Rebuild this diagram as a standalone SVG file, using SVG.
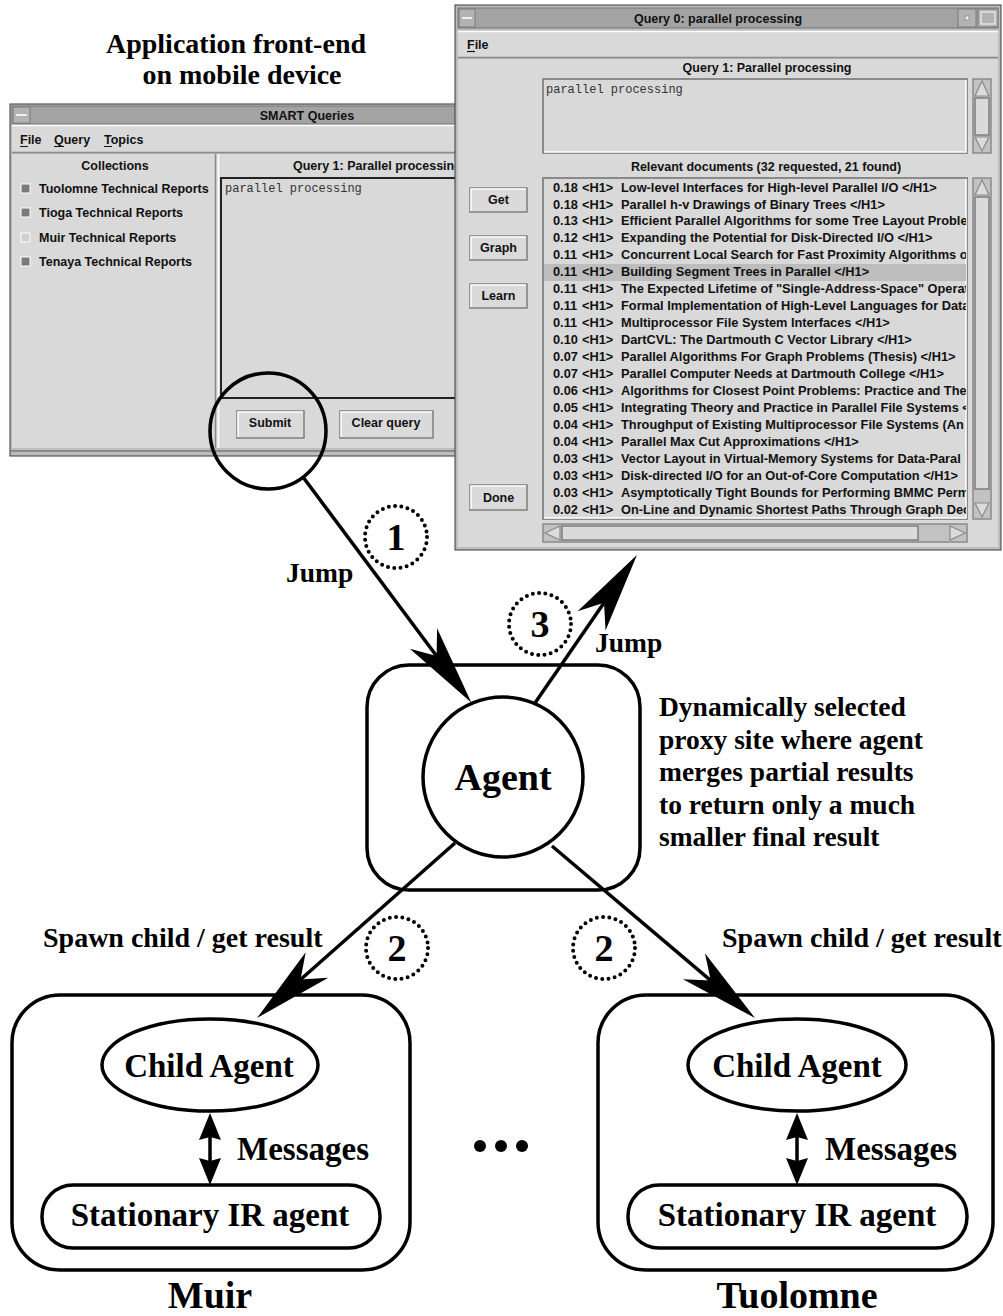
<svg xmlns="http://www.w3.org/2000/svg" width="1003" height="1316" viewBox="0 0 1003 1316">
<defs>
<style>
.gui{font-family:"Liberation Sans",Arial,Helvetica,sans-serif;font-weight:bold;font-size:12.5px;fill:#111}
.lst{font-family:"Liberation Sans",Arial,Helvetica,sans-serif;font-weight:bold;font-size:12.8px;fill:#111}
.mono{font-family:"Liberation Mono","Courier New",monospace;font-size:12px;fill:#333}
.lbl{font-family:"Liberation Serif","Times New Roman",serif;font-weight:bold;fill:#000}
.frame{fill:#bdbdbd;stroke:#3a3a3a;stroke-width:1}
.bar{fill:#a3a3a3;stroke:#777;stroke-width:1}
.face{fill:#d9d9d9}
.btn{fill:#dadada;stroke:#7f7f7f;stroke-width:1.5}
.hi{fill:none;stroke:#fff;stroke-width:1.5}
.sh{fill:none;stroke:#8a8a8a;stroke-width:1.5}
.trough{fill:#c2c2c2;stroke:#8a8a8a;stroke-width:1.5}
.arr{fill:#dcdcdc;stroke:#8a8a8a;stroke-width:1.2}
.box{fill:none;stroke:#000;stroke-width:3.5}
.conn{fill:none;stroke:#000;stroke-width:3.5}
.dots{fill:none;stroke:#000;stroke-width:4;stroke-linecap:round;stroke-dasharray:0 6.3}
</style>
<marker id="barb" markerUnits="userSpaceOnUse" viewBox="-30 -20 90 40" refX="0" refY="0" markerWidth="90" markerHeight="40" orient="auto" overflow="visible">
<path d="M54,0 L-26,-17 L-4,0 L-26,17 Z" fill="#000"/>
</marker>
<marker id="tri" markerUnits="userSpaceOnUse" viewBox="-10 -14 40 28" refX="0" refY="0" markerWidth="40" markerHeight="28" orient="auto-start-reverse" overflow="visible">
<path d="M22,0 L-5,-11 L-2,0 L-5,11 Z" fill="#000"/>
</marker>
<clipPath id="listclip"><rect x="544" y="179" width="422" height="339"/></clipPath>
</defs>

<rect width="1003" height="1316" fill="#fff"/>

<!-- Left window -->
<g id="smart-queries-window">
<rect x="10" y="104" width="452" height="352" class="frame"/>
<rect x="12" y="106" width="448" height="18" class="bar"/>
<rect x="13" y="107" width="17" height="16" fill="#b3b3b3" stroke="#7a7a7a"/>
<line x1="16" y1="115" x2="27" y2="115" stroke="#eee" stroke-width="2"/>
<text x="307" y="119.5" class="gui" text-anchor="middle">SMART Queries</text>
<rect x="12" y="125" width="448" height="28" class="face"/>
<path d="M12,152.5 H460" class="sh"/>
<path d="M12,125.5 H460" class="hi"/>
<text x="20" y="144" class="gui">File</text>
<text x="54" y="144" class="gui">Query</text>
<text x="104" y="144" class="gui">Topics</text>
<path d="M20,146.5 H28 M54,146.5 H64 M104,146.5 H112" stroke="#111" stroke-width="1.2"/>
<rect x="12" y="154" width="448" height="294" class="face"/>
<path d="M215.5,154 V448" class="sh"/>
<path d="M218.5,154 V448" class="hi"/>
<text x="115" y="170" class="gui" text-anchor="middle">Collections</text>
<rect x="21" y="184" width="9" height="9" fill="#7a7a7a" stroke="#fff" stroke-width="1"/>
<rect x="21" y="208" width="9" height="9" fill="#7a7a7a" stroke="#fff" stroke-width="1"/>
<rect x="21" y="233" width="9" height="9" fill="#d0d0d0" stroke="#fff" stroke-width="1"/>
<rect x="21" y="257" width="9" height="9" fill="#7a7a7a" stroke="#fff" stroke-width="1"/>
<text x="39" y="192.5" class="gui">Tuolomne Technical Reports</text>
<text x="39" y="217" class="gui">Tioga Technical Reports</text>
<text x="39" y="241.5" class="gui">Muir Technical Reports</text>
<text x="39" y="266" class="gui">Tenaya Technical Reports</text>
<text x="293" y="170" class="gui">Query 1:  Parallel processing</text>
<rect x="221" y="178" width="245" height="220" fill="#d9d9d9" stroke="#222" stroke-width="2"/>
<text x="225" y="192" class="mono">parallel processing</text>
<rect x="237" y="411" width="67" height="27" class="btn"/>
<path d="M238,437 V412 H303" class="hi"/>
<text x="270" y="427" class="gui" text-anchor="middle">Submit</text>
<rect x="340" y="411" width="93" height="27" class="btn"/>
<path d="M341,437 V412 H432" class="hi"/>
<text x="386" y="427" class="gui" text-anchor="middle">Clear query</text>
<path d="M10,451 H460" stroke="#7a7a7a" stroke-width="1.5"/>
</g>

<!-- Right window -->
<g id="query-results-window">
<rect x="455" y="5" width="546" height="545" class="frame"/>
<rect x="458" y="8" width="540" height="20" class="bar"/>
<rect x="459" y="9" width="16" height="18" fill="#b3b3b3" stroke="#7a7a7a"/>
<line x1="462" y1="18" x2="472" y2="18" stroke="#eee" stroke-width="2"/>
<rect x="958" y="9" width="18" height="18" fill="#b3b3b3" stroke="#7a7a7a"/>
<rect x="965" y="16" width="4" height="4" fill="#eee" stroke="#888" stroke-width="0.8"/>
<rect x="978" y="9" width="20" height="18" fill="#b3b3b3" stroke="#7a7a7a"/>
<rect x="981" y="12" width="14" height="12" fill="none" stroke="#eee" stroke-width="1.2"/>
<text x="718" y="23" class="gui" text-anchor="middle">Query 0: parallel processing</text>
<rect x="458" y="31" width="540" height="27" class="face"/>
<path d="M458,31.5 H998" class="hi"/>
<path d="M458,57.5 H998" class="sh"/>
<text x="467" y="49" class="gui">File</text>
<path d="M467,51.5 H475" stroke="#111" stroke-width="1.2"/>
<rect x="458" y="59" width="540" height="488" class="face"/>
<text x="767" y="72" class="gui" text-anchor="middle">Query 1:  Parallel processing</text>
<rect x="543" y="79" width="424" height="74" fill="#d9d9d9" stroke="#8a8a8a" stroke-width="2"/>
<path d="M544,152 H966 V80" fill="none" stroke="#fff" stroke-width="1.5"/>
<text x="546" y="93" class="mono">parallel processing</text>
<rect x="973" y="79" width="18" height="74" class="trough"/>
<polygon points="982,81 975,96 989,96" class="arr"/>
<rect x="975" y="98" width="14" height="37" class="btn"/>
<polygon points="975,137 989,137 982,151" class="arr"/>
<text x="766" y="171" class="gui" text-anchor="middle">Relevant documents (32 requested,  21 found)</text>
<rect x="543" y="178" width="424" height="341" fill="#d9d9d9" stroke="#8a8a8a" stroke-width="2"/>
<path d="M544,518 H966 V179" fill="none" stroke="#fff" stroke-width="1.5"/>
<rect x="544" y="264" width="422" height="17" fill="#bdbdbd"/>
<g clip-path="url(#listclip)" class="lst">
<text y="191.5"><tspan x="553">0.18</tspan><tspan x="582">&lt;H1&gt;</tspan><tspan x="621">Low-level Interfaces for High-level Parallel I/O &lt;/H1&gt;</tspan></text>
<text y="208.5"><tspan x="553">0.18</tspan><tspan x="582">&lt;H1&gt;</tspan><tspan x="621">Parallel h-v Drawings of Binary Trees &lt;/H1&gt;</tspan></text>
<text y="225.4"><tspan x="553">0.13</tspan><tspan x="582">&lt;H1&gt;</tspan><tspan x="621">Efficient Parallel Algorithms for some Tree Layout Problem</tspan></text>
<text y="242.4"><tspan x="553">0.12</tspan><tspan x="582">&lt;H1&gt;</tspan><tspan x="621">Expanding the Potential for Disk-Directed I/O &lt;/H1&gt;</tspan></text>
<text y="259.3"><tspan x="553">0.11</tspan><tspan x="582">&lt;H1&gt;</tspan><tspan x="621">Concurrent Local Search for Fast Proximity Algorithms on</tspan></text>
<text y="276.3"><tspan x="553">0.11</tspan><tspan x="582">&lt;H1&gt;</tspan><tspan x="621">Building Segment Trees in Parallel &lt;/H1&gt;</tspan></text>
<text y="293.2"><tspan x="553">0.11</tspan><tspan x="582">&lt;H1&gt;</tspan><tspan x="621">The Expected Lifetime of "Single-Address-Space" Operati</tspan></text>
<text y="310.2"><tspan x="553">0.11</tspan><tspan x="582">&lt;H1&gt;</tspan><tspan x="621">Formal Implementation of High-Level Languages for Data-</tspan></text>
<text y="327.1"><tspan x="553">0.11</tspan><tspan x="582">&lt;H1&gt;</tspan><tspan x="621">Multiprocessor File System Interfaces &lt;/H1&gt;</tspan></text>
<text y="344.1"><tspan x="553">0.10</tspan><tspan x="582">&lt;H1&gt;</tspan><tspan x="621">DartCVL: The Dartmouth C Vector Library &lt;/H1&gt;</tspan></text>
<text y="361"><tspan x="553">0.07</tspan><tspan x="582">&lt;H1&gt;</tspan><tspan x="621">Parallel Algorithms For Graph Problems (Thesis) &lt;/H1&gt;</tspan></text>
<text y="378"><tspan x="553">0.07</tspan><tspan x="582">&lt;H1&gt;</tspan><tspan x="621">Parallel Computer Needs at Dartmouth College &lt;/H1&gt;</tspan></text>
<text y="394.9"><tspan x="553">0.06</tspan><tspan x="582">&lt;H1&gt;</tspan><tspan x="621">Algorithms for Closest Point Problems: Practice and Theor</tspan></text>
<text y="411.9"><tspan x="553">0.05</tspan><tspan x="582">&lt;H1&gt;</tspan><tspan x="621">Integrating Theory and Practice in Parallel File Systems &lt;</tspan></text>
<text y="428.8"><tspan x="553">0.04</tspan><tspan x="582">&lt;H1&gt;</tspan><tspan x="621">Throughput of Existing Multiprocessor File Systems (An In</tspan></text>
<text y="445.8"><tspan x="553">0.04</tspan><tspan x="582">&lt;H1&gt;</tspan><tspan x="621">Parallel Max Cut Approximations &lt;/H1&gt;</tspan></text>
<text y="462.7"><tspan x="553">0.03</tspan><tspan x="582">&lt;H1&gt;</tspan><tspan x="621">Vector Layout in Virtual-Memory Systems for Data-Paral</tspan></text>
<text y="479.7"><tspan x="553">0.03</tspan><tspan x="582">&lt;H1&gt;</tspan><tspan x="621">Disk-directed I/O for an Out-of-Core Computation &lt;/H1&gt;</tspan></text>
<text y="496.6"><tspan x="553">0.03</tspan><tspan x="582">&lt;H1&gt;</tspan><tspan x="621">Asymptotically Tight Bounds for Performing BMMC Permu</tspan></text>
<text y="513.6"><tspan x="553">0.02</tspan><tspan x="582">&lt;H1&gt;</tspan><tspan x="621">On-Line and Dynamic Shortest Paths Through Graph Deco</tspan></text>
</g>
<rect x="973" y="178" width="18" height="341" class="trough"/>
<polygon points="982,180 975,195 989,195" class="arr"/>
<rect x="975" y="197" width="14" height="292" class="btn"/>
<polygon points="975,503 989,503 982,517" class="arr"/>
<rect x="543" y="524" width="424" height="18" class="trough"/>
<polygon points="545,533 560,526 560,540" class="arr"/>
<rect x="562" y="526" width="356" height="14" class="btn"/>
<polygon points="950,526 950,540 965,533" class="arr"/>
<rect x="470" y="188" width="57" height="24" class="btn"/>
<path d="M471,211 V189 H526" class="hi"/>
<text x="498.5" y="204" class="gui" text-anchor="middle">Get</text>
<rect x="470" y="236" width="57" height="24" class="btn"/>
<path d="M471,259 V237 H526" class="hi"/>
<text x="498.5" y="252" class="gui" text-anchor="middle">Graph</text>
<rect x="470" y="284" width="57" height="24" class="btn"/>
<path d="M471,307 V285 H526" class="hi"/>
<text x="498.5" y="300" class="gui" text-anchor="middle">Learn</text>
<rect x="470" y="485" width="57" height="25" class="btn"/>
<path d="M471,509 V486 H526" class="hi"/>
<text x="498.5" y="502" class="gui" text-anchor="middle">Done</text>
</g>

<!-- Captions -->
<g id="caption-frontend">
<text x="236" y="53" class="lbl" font-size="28" text-anchor="middle">Application front-end</text>
<text x="242" y="84" class="lbl" font-size="28" text-anchor="middle">on mobile device</text>
</g>

<!-- Nodes -->
<g id="submit-highlight">
<circle cx="268" cy="431" r="58" fill="none" stroke="#000" stroke-width="3.5"/>
</g>

<g id="proxy-site">
<rect x="367" y="665" width="273" height="225" rx="42" class="box" fill="#fff"/>
</g>
<g id="agent">
<circle cx="503" cy="777" r="80" fill="#fff" stroke="#000" stroke-width="3.5"/>
<text x="503" y="790" class="lbl" font-size="38" text-anchor="middle">Agent</text>
</g>
<g id="proxy-note">
<text x="659" y="716" class="lbl" font-size="27.5">Dynamically selected</text>
<text x="659" y="748.5" class="lbl" font-size="27.5">proxy site where agent</text>
<text x="659" y="781" class="lbl" font-size="27.5">merges partial results</text>
<text x="659" y="813.5" class="lbl" font-size="27.5">to return only a much</text>
<text x="659" y="846" class="lbl" font-size="27.5">smaller final result</text>
</g>

<g id="muir">
<rect x="12" y="995" width="398" height="275" rx="48" class="box"/>
<text x="210" y="1308" class="lbl" font-size="38" text-anchor="middle">Muir</text>
</g>
<g id="muir-child-agent">
<ellipse cx="210" cy="1065" rx="108" ry="46" class="box"/>
<text x="209" y="1077" class="lbl" font-size="33" text-anchor="middle">Child Agent</text>
</g>
<g id="muir-stationary-ir">
<rect x="42" y="1185" width="338" height="63" rx="31" class="box"/>
<text x="210" y="1226" class="lbl" font-size="33" text-anchor="middle">Stationary IR agent</text>
</g>

<g id="tuolomne">
<rect x="598" y="995" width="395" height="275" rx="48" class="box"/>
<text x="797" y="1308" class="lbl" font-size="38" text-anchor="middle">Tuolomne</text>
</g>
<g id="tuolomne-child-agent">
<ellipse cx="797" cy="1065" rx="109" ry="46" class="box"/>
<text x="797" y="1077" class="lbl" font-size="33" text-anchor="middle">Child Agent</text>
</g>
<g id="tuolomne-stationary-ir">
<rect x="628" y="1185" width="339" height="63" rx="31" class="box"/>
<text x="797" y="1226" class="lbl" font-size="33" text-anchor="middle">Stationary IR agent</text>
</g>

<g id="ellipsis">
<circle cx="480" cy="1146" r="6"/>
<circle cx="501" cy="1146" r="6"/>
<circle cx="522" cy="1146" r="6"/>
</g>

<!-- Connectors -->
<g id="connectors">
<line x1="303" y1="477" x2="439" y2="659.3" class="conn" marker-end="url(#barb)"/>
<line x1="535" y1="703" x2="606.3" y2="599.5" class="conn" marker-end="url(#barb)"/>
<line x1="455" y1="843" x2="297.5" y2="982.2" class="conn" marker-end="url(#barb)"/>
<line x1="552" y1="846" x2="713.8" y2="983.1" class="conn" marker-end="url(#barb)"/>
<line x1="210" y1="1135" x2="210" y2="1163" class="conn" marker-start="url(#tri)" marker-end="url(#tri)"/>
<line x1="797" y1="1135" x2="797" y2="1163" class="conn" marker-start="url(#tri)" marker-end="url(#tri)"/>
<circle cx="396" cy="537" r="31" class="dots"/>
<text x="396" y="550" class="lbl" font-size="38" text-anchor="middle">1</text>
<text x="286" y="582" class="lbl" font-size="27.5">Jump</text>
<circle cx="540" cy="624" r="31" class="dots"/>
<text x="540" y="637" class="lbl" font-size="38" text-anchor="middle">3</text>
<text x="595" y="652" class="lbl" font-size="27.5">Jump</text>
<circle cx="397" cy="948" r="31" class="dots"/>
<text x="397" y="961" class="lbl" font-size="38" text-anchor="middle">2</text>
<circle cx="604" cy="948" r="31" class="dots"/>
<text x="604" y="961" class="lbl" font-size="38" text-anchor="middle">2</text>
<text x="43" y="947" class="lbl" font-size="28">Spawn child / get result</text>
<text x="722" y="947" class="lbl" font-size="28">Spawn child / get result</text>
<text x="237" y="1160" class="lbl" font-size="33">Messages</text>
<text x="825" y="1160" class="lbl" font-size="33">Messages</text>
</g>
</svg>
